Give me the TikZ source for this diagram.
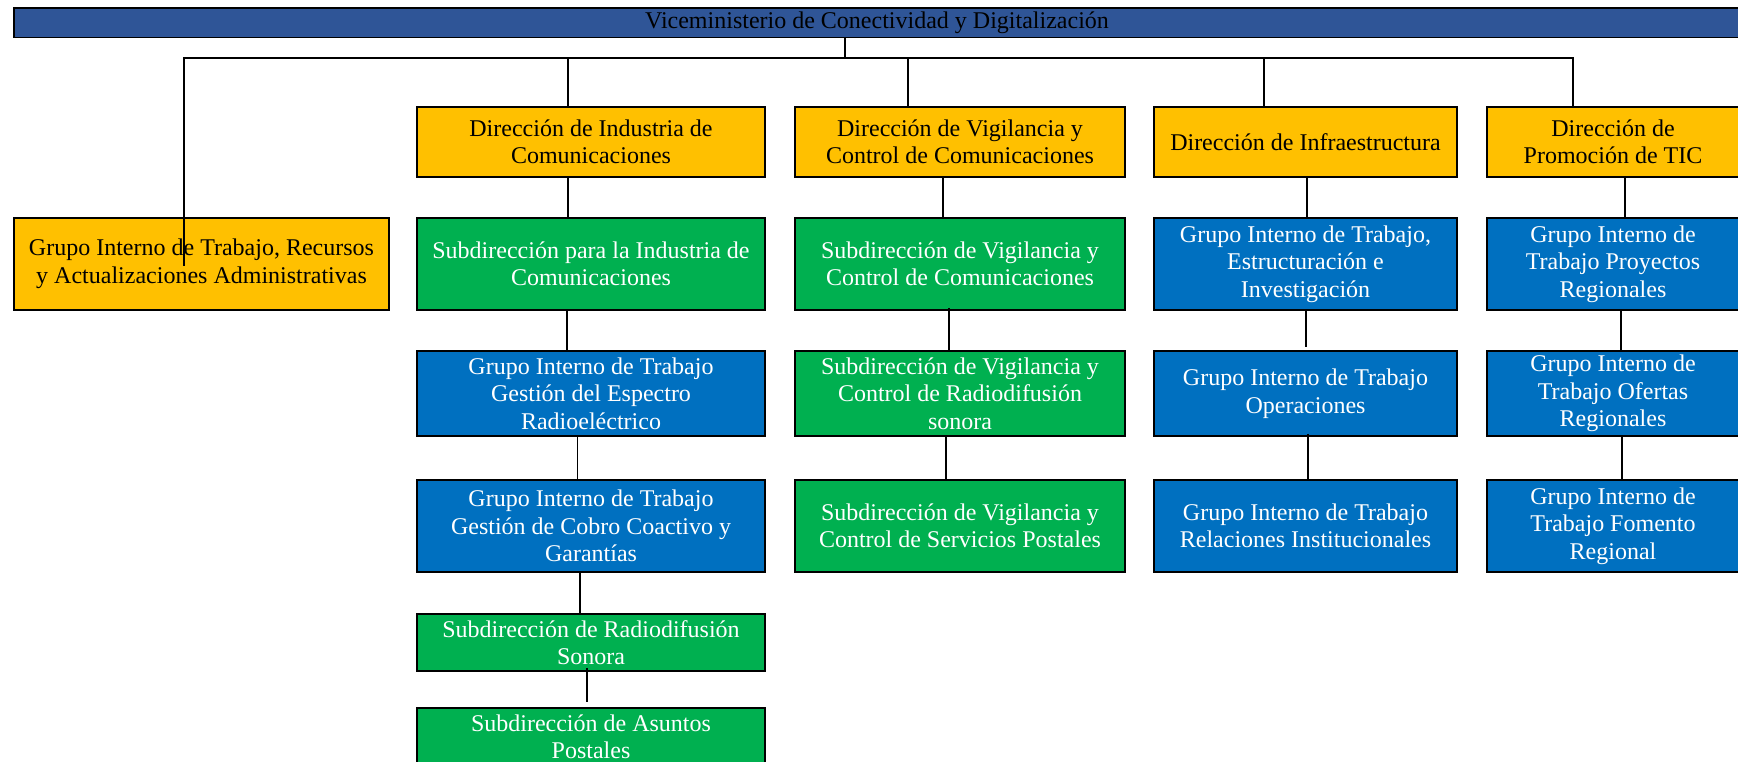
\documentclass[tikz,border=0pt]{standalone}
\usepackage{fontspec}
\setmainfont{Liberation Serif}
\definecolor{barblue}{RGB}{47,85,151}
\definecolor{dirgold}{RGB}{255,192,0}
\definecolor{subgreen}{RGB}{0,176,80}
\definecolor{grpblue}{RGB}{0,112,192}
\tikzset{
  unit/.style={draw=black,line width=1.7pt,align=center,inner sep=2pt,font=\fontsize{24}{27.5}\selectfont},
  dir/.style={unit,fill=dirgold,text=black},
  sub/.style={unit,fill=subgreen,text=white},
  grp/.style={unit,fill=grpblue,text=white},
  link/.style={line width=2pt},
  colA/.style={minimum width=375pt},
  colB/.style={minimum width=348pt},
  colC/.style={minimum width=330pt},
  colD/.style={minimum width=303pt},
  colE/.style={minimum width=252pt},
  rowA/.style={minimum height=70pt},
  rowB/.style={minimum height=92pt},
  rowC/.style={minimum height=85pt},
  rowD/.style={minimum height=92pt},
  rowE/.style={minimum height=57pt}
}
\begin{document}
\begin{tikzpicture}[x=1pt,y=-1pt]
\useasboundingbox (0,0) rectangle (1738,761);
\clip (0,0) rectangle (1738,761);
\node[unit,fill=barblue,inner sep=1pt,minimum width=1726pt,minimum height=29.5pt] (vice) at (877,22.75) {Viceministerio de Conectividad y Digitalización};
\node[dir,colA,rowB] (gtra) at (201.5,264) {Grupo Interno de Trabajo, Recursos\\y Actualizaciones Administrativas};
\node[dir,colB,rowA] (dic) at (591,142) {Dirección de Industria de\\Comunicaciones};
\node[sub,colB,rowB] (sic) at (591,264) {Subdirección para la Industria de\\Comunicaciones};
\node[grp,colB,rowC] (gesp) at (591,393.5) {Grupo Interno de Trabajo\\Gestión del Espectro\\Radioeléctrico};
\node[grp,colB,rowD] (gcob) at (591,526) {Grupo Interno de Trabajo\\Gestión de Cobro Coactivo y\\Garantías};
\node[sub,colB,rowE] (srad) at (591,642.5) {Subdirección de Radiodifusión\\Sonora};
\node[sub,colB,minimum height=58pt] (sap) at (591,737) {Subdirección de Asuntos\\Postales};
\node[dir,colC,rowA] (dvc) at (960,142) {Dirección de Vigilancia y\\Control de Comunicaciones};
\node[sub,colC,rowB] (svcc) at (960,264) {Subdirección de Vigilancia y\\Control de Comunicaciones};
\node[sub,colC,rowC] (svcr) at (960,393.5) {Subdirección de Vigilancia y\\Control de Radiodifusión\\sonora};
\node[sub,colC,rowD] (svcp) at (960,526) {Subdirección de Vigilancia y\\Control de Servicios Postales};
\node[dir,colD,rowA] (dinf) at (1305.5,142) {Dirección de Infraestructura};
\node[grp,colD,rowB] (gest) at (1305.5,264) {Grupo Interno de Trabajo,\\Estructuración e\\Investigación};
\node[grp,colD,rowC] (gope) at (1305.5,393.5) {Grupo Interno de Trabajo\\Operaciones};
\node[grp,colD,rowD] (grel) at (1305.5,526) {Grupo Interno de Trabajo\\Relaciones Institucionales};
\node[dir,colE,rowA] (dpt) at (1613,142) {Dirección de\\Promoción de TIC};
\node[grp,colE,rowB] (gpro) at (1613,264) {Grupo Interno de\\Trabajo Proyectos\\Regionales};
\node[grp,colE,rowC] (gofe) at (1613,393.5) {Grupo Interno de\\Trabajo Ofertas\\Regionales};
\node[grp,colE,rowD] (gfom) at (1613,526) {Grupo Interno de\\Trabajo Fomento\\Regional};
\coordinate (hub) at (845,58);
\coordinate (tip) at (184,266);
\draw[link] (vice.south -| hub) -- (hub);
\draw[link] (hub) -| (tip);
\draw[link] (hub) -| ([xshift=-23.5pt]dic.north);
\draw[link] (hub) -| ([xshift=-52pt]dvc.north);
\draw[link] (hub) -| ([xshift=-42pt]dinf.north);
\draw[link] (hub) -| ([xshift=-40pt]dpt.north);
\draw[link] ([xshift=-23.5pt]dic.south) -- ([xshift=-23.5pt]sic.north);
\draw[link] ([xshift=-24pt]sic.south) -- ([xshift=-24pt]gesp.north);
\draw[line width=0.8pt] ([xshift=-14pt]gesp.south) -- ([xshift=-14pt]gcob.north);
\draw[link] ([xshift=-11pt]gcob.south) -- ([xshift=-11pt]srad.north);
\draw[link] ([xshift=-4pt,yshift=4pt]srad.south) -- ([xshift=-4pt,yshift=5pt]sap.north);
\draw[link] ([xshift=-17pt]dvc.south) -- ([xshift=-17pt]svcc.north);
\draw[link] ([xshift=-11pt,yshift=3pt]svcc.south) -- ([xshift=-11pt]svcr.north);
\draw[link] ([xshift=-14pt]svcr.south) -- ([xshift=-14pt]svcp.north);
\draw[link] ([xshift=1pt]dinf.south) -- ([xshift=1pt]gest.north);
\draw[link] (gest.south) -- ([yshift=3pt]gope.north);
\draw[link] ([xshift=2pt,yshift=3pt]gope.south) -- ([xshift=2pt]grel.north);
\draw[link] ([xshift=12pt]dpt.south) -- ([xshift=12pt]gpro.north);
\draw[link] ([xshift=8pt]gpro.south) -- ([xshift=8pt]gofe.north);
\draw[link] ([xshift=9pt]gofe.south) -- ([xshift=9pt]gfom.north);
\end{tikzpicture}
\end{document}
